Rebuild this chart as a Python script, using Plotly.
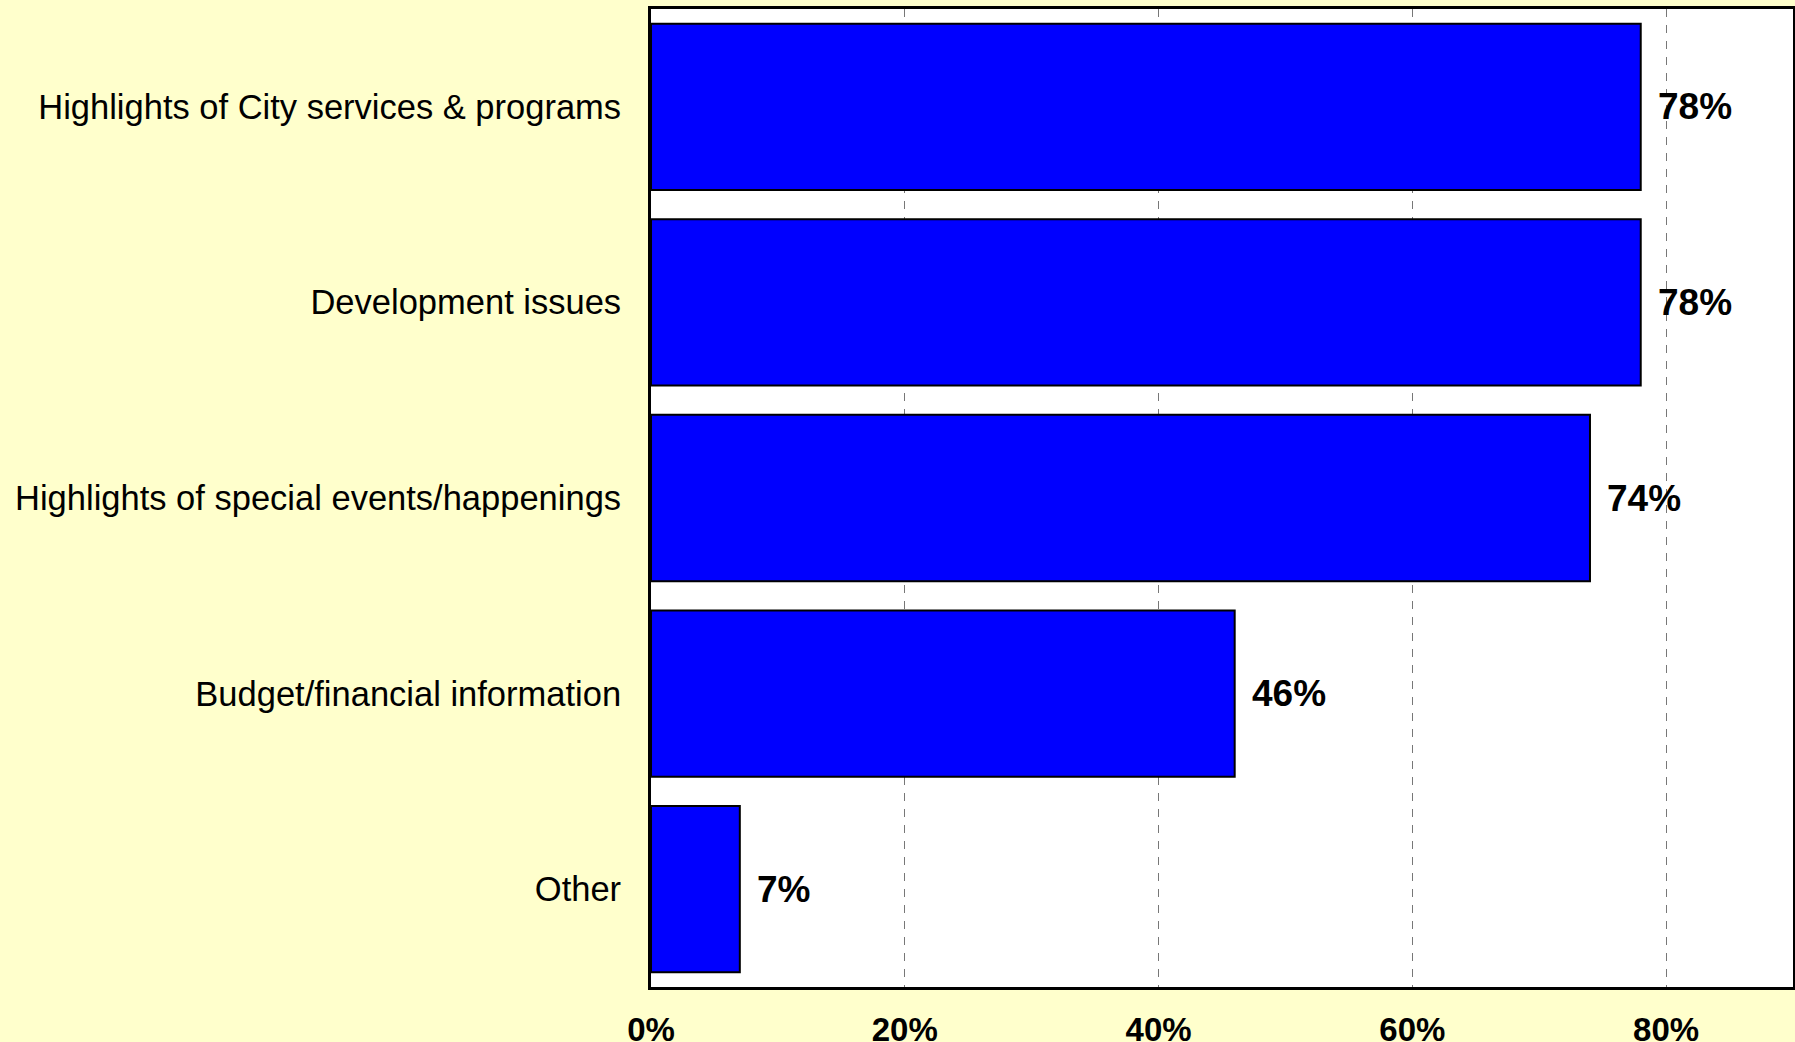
import plotly.graph_objects as go

# Survey responses: share of respondents interested in each newsletter topic
categories = [
    "Highlights of City services & programs",
    "Development issues",
    "Highlights of special events/happenings",
    "Budget/financial information",
    "Other",
]
percentages = [78, 78, 74, 46, 7]
tick_values = [0, 20, 40, 60, 80]
tick_labels = ["0%", "20%", "40%", "60%", "80%"]

fig = go.Figure()

fig.add_trace(go.Bar(
    x=percentages,
    y=categories,
    orientation="h",
    marker=dict(color="#0000FF", line=dict(color="#000000", width=2)),
    hoverinfo="x+y",
))

# Value labels placed just past the end of each bar
for cat, val in zip(categories, percentages):
    fig.add_annotation(
        x=val, y=cat, text=f"<b>{val}%</b>",
        xanchor="left", yanchor="middle", xshift=15, showarrow=False,
        font=dict(family="Liberation Sans, Arial, sans-serif", size=37, color="#000000"),
    )

fig.update_layout(
    width=1795, height=1042,
    margin=dict(l=651, r=2, t=9, b=55),
    paper_bgcolor="#FFFFCC",
    plot_bgcolor="#FFFFFF",
    bargap=0.15,
    showlegend=False,
    font=dict(family="Liberation Sans, Arial, sans-serif", size=34, color="#000000"),
)

fig.update_xaxes(
    range=[0, 90],
    tickvals=tick_values,
    ticktext=[f"<b>{t}</b>" for t in tick_labels],
    tickfont=dict(size=33),
    ticks="",
    ticklabelstandoff=11,
    automargin=False,
    showgrid=True,
    gridcolor="#777777",
    gridwidth=1,
    griddash="8px,8px",
    zeroline=False,
    showline=True, linecolor="#000000", linewidth=3, mirror=True,
    fixedrange=True,
)

fig.update_yaxes(
    autorange="reversed",
    categoryorder="array", categoryarray=categories,
    ticks="",
    ticklabelstandoff=20,
    automargin=False,
    tickfont=dict(size=34.5),
    showgrid=False,
    showline=True, linecolor="#000000", linewidth=3, mirror=True,
    fixedrange=True,
)

fig.write_html("out.html")
